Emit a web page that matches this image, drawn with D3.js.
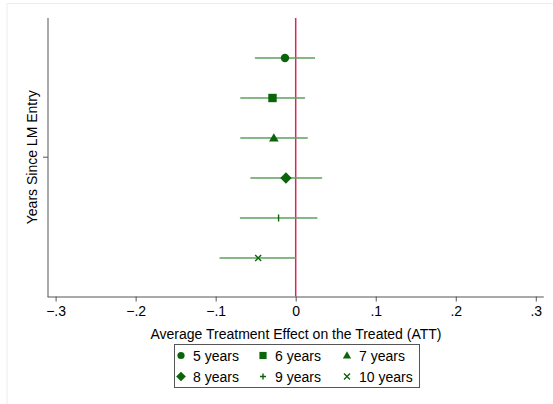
<!DOCTYPE html>
<html>
<head>
<meta charset="utf-8">
<script src="https://cdn.jsdelivr.net/npm/d3@7"></script>
<style>
  body { margin: 0; background: #fff; }
  svg { display: block; font-family: "Liberation Sans", Arial, sans-serif; }
</style>
</head>
<body>
<div id="chart"></div>
<script>
// --- data ---
const labels = ["5 years", "6 years", "7 years", "8 years", "9 years", "10 years"];
const rows = [1, 2, 3, 4, 5, 6];
const att = [-0.0134, -0.0290, -0.0273, -0.0122, -0.0214, -0.0469];
const ciLow = [-0.051, -0.0692, -0.0692, -0.0566, -0.0697, -0.0952];
const ciHigh = [0.0242, 0.0116, 0.0151, 0.0330, 0.0271, 0.0004];
const xTicks = [-0.3, -0.2, -0.1, 0, 0.1, 0.2, 0.3];
const symbols = ["circle", "square", "triangle", "diamond", "plus", "cross"];

// --- setup ---
const width = 553, height = 404;
const green = "#0a640a";
const ciColor = "#5f9e5f";

const svg = d3.select("#chart").append("svg")
    .attr("width", width)
    .attr("height", height);

// faint graph region outline
svg.append("path")
    .attr("d", `M7,${height} V3.5 H${width}`)
    .attr("fill", "none")
    .attr("stroke", "#e6eeee");

const x = d3.scaleLinear().domain([-0.31, 0.31]).range([47.6, 543.8]);
const y = d3.scaleLinear().domain([0, 7]).range([18, 298]);
const yBottom = 296.5;

// axes
const xAxis = svg.append("g")
    .attr("transform", `translate(0,${yBottom})`)
    .call(d3.axisBottom(x).tickValues(xTicks).tickSize(5).tickPadding(5)
        .tickFormat(d => d === 0 ? "0" : d3.format(".1f")(d).replace("0.", ".")));
xAxis.select(".domain").attr("stroke", "#555").attr("d", `M${x.range()[0]},0.5H${x.range()[1]}`);
xAxis.selectAll(".tick line").attr("stroke", "#555");
xAxis.selectAll("text").attr("font-size", 14).attr("fill", "#000");

const yAxisG = svg.append("g")
    .attr("transform", `translate(48,0)`);
yAxisG.append("line")
    .attr("x1", 0).attr("x2", 0)
    .attr("y1", 18).attr("y2", yBottom + 0.5)
    .attr("stroke", "#555");
yAxisG.append("line")
    .attr("x1", -5).attr("x2", 0)
    .attr("y1", y(3.48)).attr("y2", y(3.48))
    .attr("stroke", "#555");

// titles
svg.append("text")
    .attr("x", 296).attr("y", 339)
    .attr("text-anchor", "middle")
    .attr("font-size", 14)
    .text("Average Treatment Effect on the Treated (ATT)");
svg.append("text")
    .attr("transform", `translate(37,${y(3.48)}) rotate(-90)`)
    .attr("text-anchor", "middle")
    .attr("font-size", 14)
    .text("Years Since LM Entry");

// zero reference line
svg.append("line")
    .attr("x1", x(0)).attr("x2", x(0))
    .attr("y1", 18).attr("y2", yBottom)
    .attr("stroke", "#d42a5b")
    .attr("stroke-width", 1.5);

// marker helper; s = half-size in px
function drawMarker(g, sym, cx, cy, s) {
    let d;
    if (sym === "plus") {
        g.append("path")
            .attr("d", `M${cx - s},${cy}H${cx + s}M${cx},${cy - s}V${cy + s}`)
            .attr("stroke", green).attr("stroke-width", 1.4).attr("fill", "none");
        return;
    }
    if (sym === "cross") {
        g.append("path")
            .attr("d", `M${cx - s},${cy - s}L${cx + s},${cy + s}M${cx - s},${cy + s}L${cx + s},${cy - s}`)
            .attr("stroke", green).attr("stroke-width", 1.4).attr("fill", "none");
        return;
    }
    if (sym === "circle") {
        g.append("circle").attr("cx", cx).attr("cy", cy).attr("r", s).attr("fill", green);
        return;
    }
    if (sym === "square") d = `M${cx - s},${cy - s}H${cx + s}V${cy + s}H${cx - s}Z`;
    if (sym === "triangle") d = `M${cx},${cy - s * 1.15}L${cx + s * 1.15},${cy + s * 0.85}L${cx - s * 1.15},${cy + s * 0.85}Z`;
    if (sym === "diamond") d = `M${cx},${cy - s * 1.35}L${cx + s * 1.35},${cy}L${cx},${cy + s * 1.35}L${cx - s * 1.35},${cy}Z`;
    g.append("path").attr("d", d).attr("fill", green);
}

// CI lines and point estimates
const est = svg.append("g");
rows.forEach((r, i) => {
    est.append("line")
        .attr("x1", x(ciLow[i])).attr("x2", x(ciHigh[i]))
        .attr("y1", y(r)).attr("y2", y(r))
        .attr("stroke", ciColor)
        .attr("stroke-width", 1.6);
});
rows.forEach((r, i) => {
    if (symbols[i] === "plus") {
        est.append("path")
            .attr("d", `M${x(att[i])},${y(r) - 3.5}V${y(r) + 3.5}`)
            .attr("stroke", green).attr("stroke-width", 1.4);
    } else {
        drawMarker(est, symbols[i], x(att[i]), y(r), symbols[i] === "cross" ? 3 : 4.2);
    }
});

// legend
const legend = svg.append("g");
legend.append("rect")
    .attr("x", 174.5).attr("y", 344.5)
    .attr("width", 245).attr("height", 43)
    .attr("fill", "#fff")
    .attr("stroke", "#555");
const colX = [181, 263, 347];
const rowY = [355.5, 376.5];
labels.forEach((lab, i) => {
    const cx = colX[i % 3], cy = rowY[Math.floor(i / 3)];
    drawMarker(legend, symbols[i], cx, cy, symbols[i] === "plus" || symbols[i] === "cross" ? 3 : 3.6);
    legend.append("text")
        .attr("x", cx + 12).attr("y", cy + 5)
        .attr("font-size", 14)
        .text(lab);
});
</script>
</body>
</html>
